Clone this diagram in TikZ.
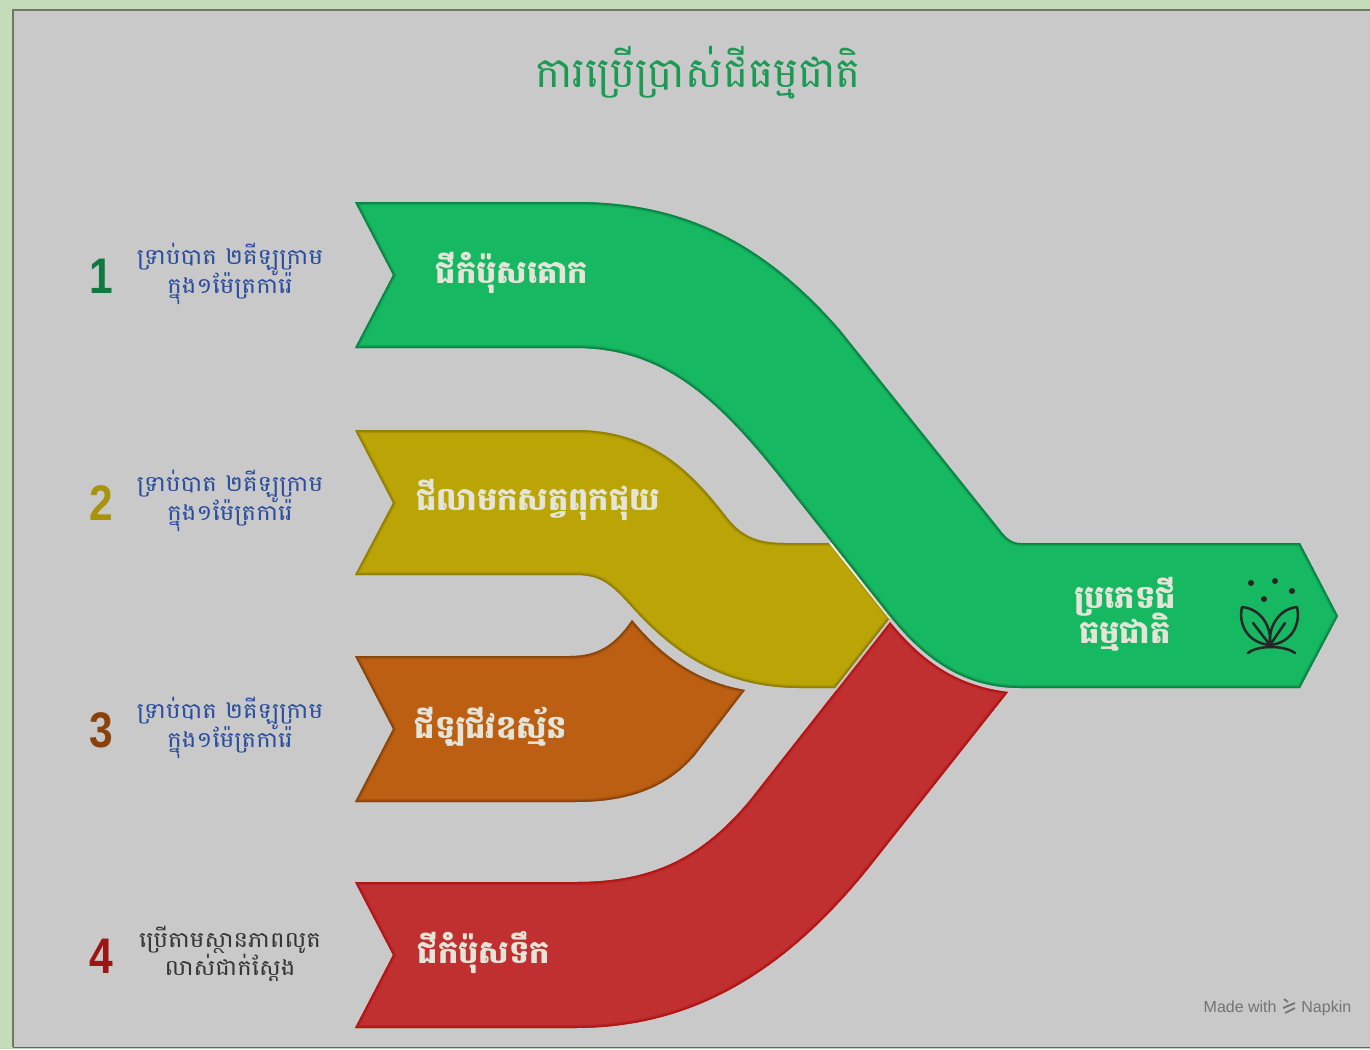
\documentclass[tikz,border=0pt]{standalone}
\usepackage{fontspec}
\setmainfont{Liberation Sans}
\newfontfamily\kh[Script=Khmer]{Battambang}
\newfontfamily\khw[Script=Khmer,FakeStretch=1.12]{Battambang}
\newfontfamily\numf{Liberation Sans}
\lineskiplimit=-30pt
\definecolor{frameg}{HTML}{C4DCB8}
\definecolor{panel}{HTML}{C9C9C9}
\definecolor{gfill}{HTML}{16B862}
\definecolor{gedge}{HTML}{0A7A40}
\definecolor{yfill}{HTML}{BAA406}
\definecolor{yedge}{HTML}{8A7A04}
\definecolor{ofill}{HTML}{BD5F12}
\definecolor{oedge}{HTML}{80400A}
\definecolor{rfill}{HTML}{C03030}
\definecolor{redge}{HTML}{B01010}
\definecolor{halo}{HTML}{ECECE4}
\definecolor{labblue}{HTML}{2A4D9E}
\definecolor{labdark}{HTML}{353535}
\definecolor{ttl}{HTML}{1A9A52}
\definecolor{txtlight}{HTML}{E4E4D8}
\definecolor{numg}{HTML}{0F7A3F}
\definecolor{numy}{HTML}{A8930A}
\definecolor{numo}{HTML}{8A4208}
\definecolor{numr}{HTML}{9C1414}
\newcommand\bandG{(355,202) -- (575,202) .. controls (670,202) and (755,232) .. (840,330) -- (1000,530) .. controls (1006,538) and (1012,543) .. (1020,543) -- (1300,543) -- (1338,616) -- (1300,688) -- (1020,688) .. controls (970,688) and (930,665) .. (893,620) -- (790,490) .. controls (720,400) and (665,348) .. (575,348) -- (355,348) -- (393,275) -- cycle}
\newcommand\bandY{(355,430) -- (575,430) .. controls (650,430) and (690,470) .. (725,515) .. controls (740,535) and (755,543) .. (785,543) -- (832,543) -- (890,618) -- (835,688) -- (800,688) .. controls (720,688) and (670,650) .. (630,605) .. controls (610,583) and (600,575) .. (575,575) -- (355,575) -- (393,503) -- cycle}
\newcommand\bandO{(355,656) -- (570,656) .. controls (598,656) and (615,645) .. (632,620) .. controls (665,660) and (700,682) .. (745,690) -- (695,755) .. controls (665,790) and (625,802) .. (575,802) -- (355,802) -- (393,729) -- cycle}
\newcommand\bandR{(355,882) -- (575,882) .. controls (650,882) and (700,860) .. (750,800) -- (890,622) .. controls (925,665) and (960,686) .. (1008,692) -- (875,860) .. controls (785,975) and (690,1028) .. (575,1028) -- (355,1028) -- (393,955) -- cycle}
\newcommand\paintband[3]{%
  \fill[#2] #1;
  \begin{scope}
    \clip #1;
    \draw[#3,line width=3pt,opacity=.35,line join=miter] #1;
    \draw[#3,line width=1.5pt,opacity=.8,line join=miter] #1;
  \end{scope}}
\tikzset{
  num/.style={font=\numf\bfseries\fontsize{25}{25}\selectfont,xscale=.85,inner sep=0pt},
  lab/.style={font=\khw\fontsize{10.9}{14.2}\selectfont,text=labblue,align=center,inner sep=0pt},
  bandtxt/.style={font=\kh\bfseries\fontsize{16}{17.5}\selectfont,text=txtlight,inner sep=0pt,align=center},
  iconline/.style={draw=black!85,line width=1.25pt,line cap=round,line join=round},
  credit/.style={font=\fontsize{8}{10}\selectfont,text=black!55,inner sep=0pt}
}
\begin{document}
\begin{tikzpicture}[x=0.5pt,y=-0.5pt]
\useasboundingbox (0,0) rectangle (1370,1049);
\fill[frameg] (0,0) rectangle (1370,1049);
\fill[panel] (13,10) rectangle (1370,1047);
\draw[black!45!frameg,line width=.8pt] (13,1047) -- (13,10) -- (1370,10);
\draw[black!50!panel,line width=.8pt] (13,1047.5) -- (1370,1047.5);
% bands
\paintband{\bandR}{rfill}{redge}
\paintband{\bandO}{ofill}{oedge}
\begin{scope}\clip \bandO; \draw[halo,line width=2.4pt] \bandY;\end{scope}
\begin{scope}\clip \bandR; \draw[halo,line width=2.4pt] \bandY;\end{scope}
\paintband{\bandY}{yfill}{yedge}
\begin{scope}\clip \bandY; \draw[halo,line width=2.4pt] \bandG;\end{scope}
\begin{scope}\clip \bandR; \draw[halo,line width=2.4pt] \bandG;\end{scope}
\paintband{\bandG}{gfill}{gedge}
% title
\node[font=\kh\fontsize{21}{24}\selectfont,text=ttl,inner sep=0pt] (title) at (698,73) {ការប្រើប្រាស់ជីធម្មជាតិ};
% numbers
\node[num,text=numg] (n1) at (101,276) {1};
\node[num,text=numy] (n2) at (101,503) {2};
\node[num,text=numo] (n3) at (101,730) {3};
\node[num,text=numr] (n4) at (101,956) {4};
% left labels
\node[lab] (l1) at (230,274) {ទ្រាប់បាត ២គីឡូក្រាម\\ក្នុង១ម៉ែត្រការ៉េ};
\node[lab] (l2) at (230,501) {ទ្រាប់បាត ២គីឡូក្រាម\\ក្នុង១ម៉ែត្រការ៉េ};
\node[lab] (l3) at (230,728) {ទ្រាប់បាត ២គីឡូក្រាម\\ក្នុង១ម៉ែត្រការ៉េ};
\node[lab,text=labdark] (l4) at (230,954) {ប្រើតាមស្ថានភាពលូត\\លាស់ជាក់ស្តែង};
% band labels
\node[bandtxt] (b1) at (512,273) {ជីកំប៉ុសគោក};
\node[bandtxt] (b2) at (538,500) {ជីលាមកសត្វពុកផុយ};
\node[bandtxt] (b3) at (491,727) {ជីឡជីវឧស្ម័ន};
\node[bandtxt] (b4) at (484,953) {ជីកំប៉ុសទឹក};
\node[bandtxt] (b5) at (1125,614) {ប្រភេទជី\\ធម្មជាតិ};
% icon
\fill[black!85] (1251,583) circle (3) (1275,581) circle (3) (1292,591) circle (3) (1264,599) circle (3);
\draw[iconline] (1270,645) .. controls (1272,628) and (1262,609) .. (1242,607) .. controls (1238,625) and (1248,643) .. (1270,645);
\draw[iconline] (1270,645) .. controls (1268,628) and (1278,609) .. (1297,607) .. controls (1301,625) and (1291,643) .. (1270,645);
\draw[iconline] (1253,623) -- (1270,645) -- (1285,623);
\draw[iconline] (1248,653) .. controls (1258,645) and (1284,645) .. (1295,653);
% credit
\node[credit,anchor=base east] (m1) at (1277,1012) {Made with};
\node[credit,anchor=base west] (m2) at (1301,1012) {Napkin};
\draw[black!55,line width=.9pt] (1284,999) -- (1288,1002) (1283,1008) -- (1295,1003) (1285,1013) -- (1295,1008);
\end{tikzpicture}
\end{document}
